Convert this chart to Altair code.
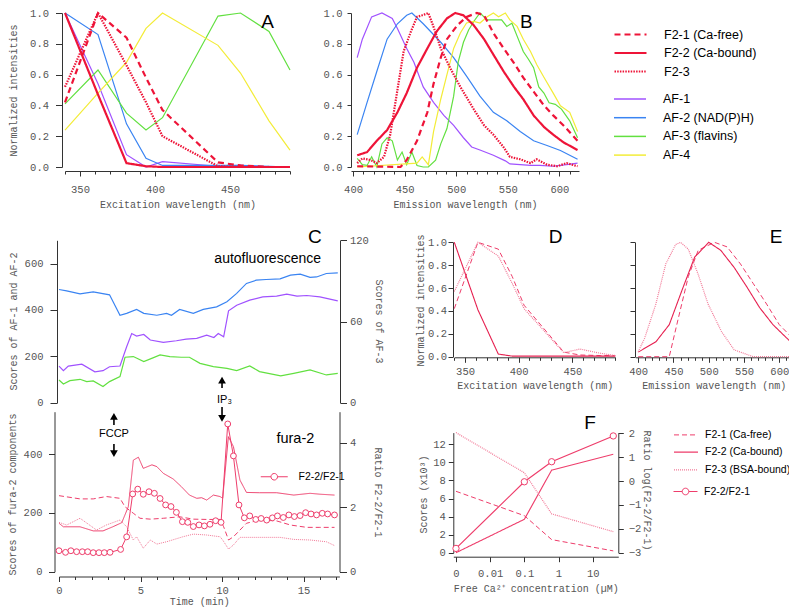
import altair as alt
import pandas as pd

W, H = 781, 600

# ---------------- data ----------------
# Panel A (excitation spectra)
EXA = [340, 362, 381, 394, 405, 442, 457, 476, 490]
A_F21 = [0.42, 1.0, 0.84, 0.58, 0.37, 0.03, 0.01, 0.0, 0.0]
A_F22 = [1.0, 0.47, 0.025, 0.005, 0.0, 0.0, 0.0, 0.0, 0.0]
A_F23 = [0.52, 1.0, 0.66, 0.42, 0.20, 0.005, 0.0, 0.0, 0.0]
A_AF1 = [1.0, 0.54, 0.08, 0.0, 0.035, 0.005, 0.01, 0.0, 0.0]
A_AF2 = [1.0, 0.86, 0.28, 0.056, 0.01, 0.01, 0.01, 0.005, 0.0]
A_AF3 = [0.41, 0.63, 0.35, 0.24, 0.32, 0.98, 1.0, 0.88, 0.63]
A_AF4 = [0.24, 0.48, 0.68, 0.90, 1.0, 0.79, 0.61, 0.30, 0.11]

# Panel B (emission spectra)
B_F21_X = [404, 446, 452, 462, 472, 478, 485, 491, 501, 510, 520, 527, 536, 546, 556, 565, 575, 585, 594, 604, 617.6]
B_F21 = [0.005, 0.0, 0.045, 0.17, 0.355, 0.54, 0.71, 0.83, 0.92, 0.975, 1.0, 0.985, 0.87, 0.77, 0.675, 0.58, 0.49, 0.40, 0.335, 0.27, 0.17]
B_F22_X = [404, 413.6, 423, 433, 443, 452, 462, 472, 481, 491, 499, 507, 517, 527, 536, 546, 556, 565, 575, 585, 594, 604, 617.6]
B_F22 = [0.076, 0.097, 0.17, 0.24, 0.355, 0.48, 0.645, 0.77, 0.88, 0.965, 1.0, 0.985, 0.92, 0.83, 0.73, 0.62, 0.52, 0.44, 0.335, 0.26, 0.21, 0.16, 0.11]
B_F23_X = [404, 409, 417, 423, 430, 436, 443, 449, 455.5, 462, 467, 473, 478, 485, 494, 504, 517, 527, 536, 546, 552, 562, 572, 578, 588, 598, 607, 617.6]
B_F23 = [0.025, 0.056, 0.045, 0.025, 0.066, 0.21, 0.5, 0.75, 0.87, 0.975, 0.985, 1.0, 0.91, 0.77, 0.645, 0.52, 0.375, 0.27, 0.21, 0.128, 0.066, 0.05, 0.025, 0.05, 0.015, 0.005, 0.025, 0.005]
B_AF1_X = [404, 409, 418, 428, 438, 443, 452, 459, 468, 478, 488, 497.5, 507, 515, 523, 536, 547.6, 552, 562, 572, 581, 594, 607, 617.6]
B_AF1 = [0.71, 0.83, 0.975, 1.0, 0.965, 0.90, 0.77, 0.68, 0.52, 0.42, 0.335, 0.27, 0.19, 0.13, 0.11, 0.076, 0.04, 0.02, 0.015, 0.01, 0.01, 0.005, 0.015, 0.025]
B_AF2_X = [404, 413.6, 423, 433, 443, 452, 457, 468, 485, 497.5, 510, 523, 536, 549, 562, 575, 588, 601, 617.6]
B_AF2 = [0.21, 0.42, 0.62, 0.83, 0.93, 0.985, 1.0, 0.93, 0.81, 0.71, 0.59, 0.46, 0.355, 0.30, 0.23, 0.17, 0.14, 0.107, 0.05]
B_AF3_X = [404, 409, 413.6, 418, 423, 428, 433, 438, 443, 447.5, 452, 457, 462, 468, 473, 480, 485, 491, 497.5, 502, 507, 512, 517, 523, 530, 536, 544, 549, 554, 559, 565, 570, 575, 580, 585, 590, 596, 602, 610, 617.6]
B_AF3 = [0.056, 0.015, 0.01, 0.066, 0.0, 0.15, 0.19, 0.17, 0.045, 0.097, 0.015, 0.097, 0.01, 0.0, 0.0, 0.045, 0.15, 0.25, 0.46, 0.685, 0.81, 0.89, 0.945, 1.0, 0.955, 0.955, 0.955, 0.913, 0.934, 0.85, 0.75, 0.70, 0.645, 0.52, 0.48, 0.417, 0.407, 0.376, 0.30, 0.19]
B_AF4_X = [404, 462, 467, 473, 478, 485, 491, 497.5, 504, 510, 517, 523, 530, 536, 541, 547.6, 552, 559, 565, 572, 578, 585, 594, 601, 610, 617.6]
B_AF4 = [0.0, 0.025, 0.066, 0.015, 0.23, 0.44, 0.60, 0.77, 0.87, 0.935, 0.945, 0.935, 0.975, 1.0, 0.975, 1.0, 0.955, 0.913, 0.83, 0.75, 0.665, 0.583, 0.48, 0.397, 0.355, 0.23]

# Panel C top (autofluorescence scores)
C_AF2_T = [0, 0.47, 1.29, 2.1, 3.1, 3.74, 4.15, 4.76, 5.2, 6.0, 6.6, 6.9, 7.4, 8.24, 8.85, 9.67, 10.3, 10.9, 11.5, 12.1, 12.7, 13.56, 14.2, 14.8, 15.4, 15.8, 16.4, 17.1]
C_AF2 = [488, 482, 469, 478, 465, 377, 385, 402, 385, 377, 385, 377, 402, 385, 402, 413, 435, 471, 514, 528, 531, 534, 550, 554, 540, 542, 557, 560]
C_AF1_T = [0, 0.27, 0.57, 1.4, 2.2, 2.7, 3.1, 3.74, 4.15, 4.46, 4.76, 5.2, 5.6, 6.4, 7.2, 7.8, 8.45, 9.06, 9.5, 9.77, 10.1, 10.4, 10.9, 11.7, 12.5, 13.35, 13.97, 14.6, 15.2, 16.0, 17.1]
C_AF1 = [158, 138, 158, 166, 133, 138, 155, 158, 241, 298, 287, 294, 270, 260, 267, 274, 277, 291, 281, 298, 284, 396, 420, 442, 456, 459, 468, 459, 462, 456, 439]
C_AF3_T = [0, 0.27, 0.67, 1.29, 1.7, 2.1, 2.7, 3.1, 3.74, 4.05, 4.56, 5.2, 5.8, 6.2, 6.8, 7.5, 8.0, 8.65, 9.47, 10.3, 10.9, 11.7, 12.3, 13.6, 14.4, 15.4, 16.4, 17.1]
C_AF3 = [16.8, 13.8, 16.3, 17.3, 15.6, 16.1, 11.9, 15.6, 19.3, 33.6, 34.1, 30.4, 33.3, 35.3, 34.1, 33.6, 33.6, 29.1, 26.7, 25.4, 23.7, 27.2, 23.0, 19.8, 21.7, 24.2, 20.5, 21.7]

# Panel C bottom (fura-2 components)
C_F22_T = [0, 0.27, 1.29, 2.1, 2.7, 3.3, 3.85, 4.25, 4.56, 4.87, 5.17, 5.7, 6.0, 6.4, 7.0, 7.5, 8.0, 8.45, 8.75, 9.06, 9.47, 9.88, 10.04, 10.39, 10.7, 11.1, 11.5, 12.3, 13.35, 14.4, 15.4, 16.0, 16.9]
C_F22 = [165, 153, 153, 139, 139, 153, 167, 221, 380, 390, 352, 364, 358, 335, 316, 290, 261, 250, 252, 244, 261, 256, 250, 460, 426, 312, 270, 269, 269, 261, 267, 264, 261]
C_F21_T = [0, 1.29, 2.1, 2.9, 3.74, 4.05, 4.56, 4.97, 5.6, 6.4, 7.4, 8.24, 9.06, 9.88, 10.1, 10.4, 10.7, 11.0, 11.5, 12.3, 13.35, 14.2, 15.2, 16.0, 16.9]
C_F21 = [259, 248, 248, 256, 250, 221, 199, 182, 179, 182, 187, 179, 178, 178, 153, 108, 119, 136, 165, 176, 173, 159, 151, 151, 151]
C_F23_T = [0, 0.47, 1.29, 2.3, 2.9, 3.74, 4.15, 4.56, 4.76, 5.17, 5.6, 6.0, 6.6, 7.6, 8.24, 9.06, 9.88, 10.04, 10.4, 10.7, 11.1, 12.3, 13.56, 14.4, 15.4, 16.4, 16.9]
C_F23 = [168, 159, 182, 142, 159, 176, 153, 108, 119, 80, 108, 94, 102, 119, 128, 125, 119, 108, 77, 91, 117, 117, 117, 110, 108, 102, 89]
C_R_T = [0, 0.4, 0.73, 1.08, 1.43, 1.76, 2.1, 2.45, 2.78, 3.13, 3.78, 4.15, 4.52, 4.83, 5.17, 5.52, 5.85, 6.2, 6.54, 6.87,
         7.2, 7.57, 7.9, 8.24, 8.59, 8.92, 9.26, 9.61, 9.94, 10.35, 10.7, 11.04, 11.37, 11.7, 12.07, 12.4, 12.74, 13.09, 13.4, 13.76,
         14.1, 14.44, 14.79, 15.13, 15.46, 15.8, 16.15, 16.48, 16.9]
C_R = [0.65, 0.60, 0.65, 0.62, 0.62, 0.62, 0.59, 0.59, 0.59, 0.60, 0.69, 1.08, 2.41, 2.56, 2.40, 2.48, 2.43, 2.27, 2.07, 2.02,
       1.84, 1.55, 1.53, 1.40, 1.45, 1.42, 1.47, 1.58, 1.53, 4.58, 3.59, 2.07, 1.67, 1.73, 1.62, 1.65, 1.60, 1.67, 1.73, 1.68,
       1.76, 1.71, 1.74, 1.83, 1.79, 1.76, 1.81, 1.79, 1.76]

# Panel D (in vitro excitation)
D_X = [340, 362, 381, 394, 405, 442, 457, 476, 490]
D_F21 = [0.42, 1.0, 0.94, 0.70, 0.45, 0.04, 0.015, 0.01, 0.01]
D_F22 = [1.0, 0.41, 0.023, 0.005, 0.005, 0.005, 0.005, 0.005, 0.005]
D_F23 = [0.57, 1.0, 0.88, 0.64, 0.42, 0.035, 0.067, 0.03, 0.01]

# Panel E (in vitro emission)
E_F21_X = [400, 444, 457, 471, 485, 508, 526, 545, 563, 582, 600, 616]
E_F21 = [0.0, 0.0, 0.34, 0.70, 0.93, 1.0, 0.96, 0.81, 0.64, 0.46, 0.28, 0.18]
E_F22_X = [400, 425, 444, 462, 480, 500, 517, 536, 554, 572, 591, 616]
E_F22 = [0.04, 0.13, 0.28, 0.58, 0.87, 1.0, 0.93, 0.78, 0.61, 0.43, 0.28, 0.13]
E_F23_X = [400, 409, 425, 439, 453, 460, 471, 485, 499, 518, 536, 563, 618]
E_F23 = [0.044, 0.16, 0.46, 0.81, 0.98, 1.0, 0.94, 0.72, 0.46, 0.22, 0.06, 0.0, 0.0]

# Panel F (calibration)
F_X = [0.001, 0.1, 0.63, 40]
F_F21 = [6.8, 4.1, 1.45, 0.2]
F_F22 = [0.0, 3.7, 9.15, 10.9]
F_F23 = [13.3, 8.85, 4.3, 2.33]
F_R = [-2.82, -0.03, 0.81, 1.89]

F2_AB = ["F2-1 (Ca-free)", "F2-2 (Ca-bound)", "F2-3"]
AF_N = ["AF-1", "AF-2 (NAD(P)H)", "AF-3 (flavins)", "AF-4"]
F2_F = ["F2-1 (Ca-free)", "F2-2 (Ca-bound)", "F2-3 (BSA-bound)"]
RATIO = ["F2-2/F2-1"]

# ---------------- style ----------------
RED = "#EE1438"
PURPLE = "#A052FF"
BLUE = "#3A84F2"
GREEN = "#62E040"
YELLOW = "#F3EC38"
PINK = "#EE3D6B"
PINK_D = "#E62050"
PINK_L = "#F27A98"
MONO = "Liberation Mono"
SANS = "Liberation Sans"


def sc(dom, rng, **kw):
    return alt.Scale(domain=dom, range=rng, nice=False, zero=False, **kw)


def ax(orient, offset, values, title=None, **kw):
    d = dict(labelFont=MONO, labelFontSize=10.5, labelColor="#555", titleFont=MONO,
             titleFontSize=10, titleColor="#555", titleFontWeight="normal",
             domainColor="#333", tickColor="#333", grid=False, labelPadding=2,
             tickSize=5, labelFlush=False, labelOverlap=False, titlePadding=3)
    d.update(kw)
    return alt.Axis(orient=orient, offset=offset, values=values, title=title, **d)


def yax(orient, offset, values, title, tx, ty, **kw):
    extra = dict(kw)
    if title is not None:
        extra.update(titleX=tx, titleY=ty, titleAngle=(270 if orient == "left" else 90),
                     titleBaseline="middle", titleAlign="center")
    return ax(orient, offset, values, title, **extra)


def minor(offset, values):
    return ax("bottom", offset, values, labels=False, domain=False, tickSize=3)


def long(items):
    rows = []
    for name, xs, ys in items:
        for a, b in zip(xs, ys):
            rows.append({"s": name, "x": a, "y": b})
    return pd.DataFrame(rows)


def leg(x, y, path, size, soff, loff, fs, rowpad, **kw):
    return alt.Legend(orient="none", legendX=x, legendY=y, title=None, symbolType=path,
                      symbolSize=size, symbolOffset=soff, labelOffset=loff, labelFont=SANS,
                      labelFontSize=fs, labelColor="#000", rowPadding=rowpad, padding=0, **kw)


def f2_layer(df, xs, ys, xaxis, yaxis, dom, cols, dashes, widths, legend=None):
    return alt.Chart(df).mark_line().encode(
        x=alt.X("x:Q", scale=xs, axis=xaxis),
        y=alt.Y("y:Q", scale=ys, axis=yaxis),
        color=alt.Color("s:N", scale=alt.Scale(domain=dom, range=cols), legend=legend),
        strokeDash=alt.StrokeDash("s:N", scale=alt.Scale(domain=dom, range=dashes), legend=legend),
        strokeWidth=alt.StrokeWidth("s:N", scale=alt.Scale(domain=dom, range=widths), legend=legend),
    )


def text_layer(xs, ys, xv, yv, tv, size, font=SANS, xaxis=None):
    df = pd.DataFrame({"x": xv, "y": yv, "t": tv})
    return alt.Chart(df).mark_text(font=font, fontSize=size, color="#000").encode(
        x=alt.X("x:Q", scale=xs, axis=xaxis), y=alt.Y("y:Q", scale=ys, axis=None), text="t:N")


layers = []
LINE_PATH = "M-2,0H2"
AB_DASH = [[6, 4], [1, 0], [1.5, 1.2]]
CF_DASH = [[5, 3], [1, 0], [1, 1]]
UNIT = [0, 0.2, 0.4, 0.6, 0.8, 1.0]

# ---------------- Panel A ----------------
xA = sc([340, 490], [57, 282])
yA = sc([0, 1], [159, 5])
dfA_af = long([(AF_N[0], EXA, A_AF1), (AF_N[1], EXA, A_AF2), (AF_N[2], EXA, A_AF3), (AF_N[3], EXA, A_AF4)])
dfA_f2 = long([(F2_AB[0], EXA, A_F21), (F2_AB[1], EXA, A_F22), (F2_AB[2], EXA, A_F23)])
layers.append(alt.Chart(dfA_af).mark_line(strokeWidth=1.2).encode(
    x=alt.X("x:Q", scale=xA, axis=minor(163 - H, list(range(340, 491, 10)))),
    y=alt.Y("y:Q", scale=yA, axis=None),
    color=alt.Color("s:N", scale=alt.Scale(domain=AF_N, range=[PURPLE, BLUE, GREEN, YELLOW]), legend=None)))
layers.append(f2_layer(dfA_f2, xA, yA,
                       ax("bottom", 163 - H, [350, 400, 450], "Excitation wavelength (nm)", labelPadding=8, titlePadding=5),
                       yax("left", -54, UNIT, "Normalized intensities", -49, 82, format=".1f",
                           tickSize=6.5, labelPadding=7),
                       F2_AB, [RED, RED, RED], AB_DASH, [2.2, 2.2, 2.0]))
layers.append(text_layer(xA, yA, [475], [0.94], ["A"], 19))

# ---------------- Panel B ----------------
xB = sc([398, 619], [343, 571])
yB = sc([0, 1], [159, 5])
dfB_af = long([(AF_N[0], B_AF1_X, B_AF1), (AF_N[1], B_AF2_X, B_AF2), (AF_N[2], B_AF3_X, B_AF3), (AF_N[3], B_AF4_X, B_AF4)])
dfB_f2 = long([(F2_AB[0], B_F21_X, B_F21), (F2_AB[1], B_F22_X, B_F22), (F2_AB[2], B_F23_X, B_F23)])
layers.append(alt.Chart(dfB_af).mark_line(strokeWidth=1.2).encode(
    x=alt.X("x:Q", scale=xB, axis=minor(163 - H, list(range(400, 611, 10)))),
    y=alt.Y("y:Q", scale=yB, axis=None),
    color=alt.Color("s:N", scale=alt.Scale(domain=AF_N, range=[PURPLE, BLUE, GREEN, YELLOW]),
                    legend=leg(605, 82, LINE_PATH, 256, 8, 24, 12.5, 2.7, symbolStrokeWidth=1.5))))
F2_LEG = leg(605, 17, LINE_PATH, 256, 8, 24, 12.5, 2.5)
layers.append(f2_layer(dfB_f2, xB, yB,
                       ax("bottom", 163 - H, [400, 450, 500, 550, 600], "Emission wavelength (nm)", labelPadding=8, titlePadding=5),
                       ax("left", -343, UNIT, None, format=".1f", tickSize=4, labelPadding=5),
                       F2_AB, [RED, RED, RED], AB_DASH, [2.2, 2.2, 2.0], legend=F2_LEG))
layers.append(text_layer(xB, yB, [568], [0.94], ["B"], 19))

# ---------------- Panel C (top) ----------------
xC = sc([0, 17.2], [51, 331.4])
yCt = sc([0, 700], [394.7, 232.3])
yCt3 = sc([0, 120], [394.7, 232.3])
dfC_af = long([(AF_N[0], C_AF1_T, C_AF1), (AF_N[1], C_AF2_T, C_AF2)])
dfC_af3 = pd.DataFrame({"x": C_AF3_T, "y": C_AF3})
layers.append(alt.Chart(dfC_af).mark_line(strokeWidth=1.2).encode(
    x=alt.X("x:Q", scale=xC, axis=None),
    y=alt.Y("y:Q", scale=yCt, axis=yax("left", -49, [0, 200, 400, 600], "Scores of AF-1 and AF-2", -44, 313,
                                       tickSize=7, labelPadding=7)),
    color=alt.Color("s:N", scale=alt.Scale(domain=AF_N[:2], range=[PURPLE, BLUE]), legend=None)))
layers.append(alt.Chart(dfC_af3).mark_line(strokeWidth=1.2, color=GREEN).encode(
    x=alt.X("x:Q", scale=xC, axis=None),
    y=alt.Y("y:Q", scale=yCt3, axis=yax("right", 332 - W, [0, 60, 120], "Scores of AF-3", 38.5, 313,
                                        tickSize=6.5, labelPadding=3))))
layers.append(text_layer(xC, yCt, [15.7], [714], ["C"], 19))
layers.append(text_layer(xC, yCt, [12.8], [619], ["autofluorescence"], 14))
layers.append(text_layer(xC, yCt, [10.15], [11], ["IP₃"], 11))

# arrows
ARR_TOP = pd.DataFrame({"x": [10.0], "yb": [63.4], "ye": [100], "yh": [97], "d": ["up"]})
ARR_BOT = pd.DataFrame({"x": [3.37, 3.37, 10.0], "yb": [499.6, 435, 561], "ye": [530, 400, 520],
                        "yh": [528.9, 402.3, 522.6], "d": ["up", "down", "down"]})
yCb = sc([0, 545], [563.7, 403.7])
for dfa, ysc in [(ARR_TOP, yCt), (ARR_BOT, yCb)]:
    layers.append(alt.Chart(dfa).mark_rule(strokeWidth=1.6, color="#000").encode(
        x=alt.X("x:Q", scale=xC, axis=None), y=alt.Y("yb:Q", scale=ysc, axis=None), y2="ye:Q"))
    layers.append(alt.Chart(dfa).mark_point(filled=True, color="#000", size=60, opacity=1).encode(
        x=alt.X("x:Q", scale=xC, axis=None), y=alt.Y("yh:Q", scale=ysc, axis=None),
        shape=alt.Shape("d:N", scale=alt.Scale(domain=["up", "down"], range=["triangle-up", "triangle-down"]), legend=None)))

# ---------------- Panel C (bottom) ----------------
yCr = sc([0, 4.96], [563.7, 403.7])
dfC_f2 = long([(F2_F[0], C_F21_T, C_F21), (F2_F[1], C_F22_T, C_F22), (F2_F[2], C_F23_T, C_F23)])
dfC_r = pd.DataFrame({"x": C_R_T, "y": C_R, "s": RATIO[0]})
layers.append(f2_layer(dfC_f2, xC, yCb,
                       ax("bottom", 568.5 - H, [0, 5, 10, 15], "Time (min)", labelPadding=4, titlePadding=0),
                       yax("left", -46.5, [0, 200, 400], "Scores of fura-2 components", -42, 486,
                           tickSize=6, labelPadding=6.5),
                       F2_F, [PINK, PINK, PINK_L], CF_DASH, [1, 1, 1.2]))
RPATH_C = "M-3,0H-0.73M0.73,0H3M-0.73,0A0.73,0.73 0 1 1 0.73,0A0.73,0.73 0 1 1 -0.73,0"
layers.append(alt.Chart(dfC_r).mark_line(strokeWidth=1).encode(
    x=alt.X("x:Q", scale=xC, axis=minor(568.5 - H, list(range(0, 18)))),
    y=alt.Y("y:Q", scale=yCr, axis=yax("right", 331.5 - W, [0, 2, 4], "Ratio F2-2/F2-1", 37.5, 484,
                                       tickSize=7, labelPadding=3)),
    color=alt.Color("s:N", scale=alt.Scale(domain=RATIO, range=[PINK]),
                    legend=leg(252, 463.5, RPATH_C, 81, 9, 19, 10.5, 2, symbolStrokeWidth=1,
                               symbolFillColor="white"))))
layers.append(alt.Chart(dfC_r).mark_point(filled=True, fill="white", stroke=PINK, strokeWidth=1, size=34, opacity=1).encode(
    x=alt.X("x:Q", scale=xC, axis=None), y=alt.Y("y:Q", scale=yCr, axis=None)))
layers.append(text_layer(xC, yCb, [14.5], [451], ["fura-2"], 14.5))
layers.append(text_layer(xC, yCb, [3.37], [470], ["FCCP"], 11))

# ---------------- Panel D ----------------
xD = sc([340, 490], [446.3, 607.3])
yD = sc([0, 1], [348.7, 234.3])
dfD = long([(F2_F[0], D_X, D_F21), (F2_F[1], D_X, D_F22), (F2_F[2], D_X, D_F23)])
layers.append(f2_layer(dfD, xD, yD,
                       ax("bottom", 349.3 - H, [350, 400, 450], "Excitation wavelength (nm)", labelPadding=4, titlePadding=4),
                       yax("left", -445, UNIT, "Normalized intensities", -32.5, 292, format=".1f",
                           tickSize=5, labelPadding=1.5),
                       F2_F, [PINK, PINK_D, PINK_L], CF_DASH, [1, 1.2, 1.2]))
layers.append(text_layer(xD, yD, [434.5], [1.05], ["D"], 19,
                         xaxis=minor(349.3 - H, list(range(340, 491, 10)))))

# ---------------- Panel E ----------------
xE = sc([396, 618], [627.4, 784])
yE = sc([0, 1], [348.7, 234.3])
dfE = long([(F2_F[0], E_F21_X, E_F21), (F2_F[1], E_F22_X, E_F22), (F2_F[2], E_F23_X, E_F23)])
layers.append(f2_layer(dfE, xE, yE,
                       ax("bottom", 349.3 - H, [400, 450, 500, 550, 600], "Emission wavelength (nm)", labelPadding=4, titlePadding=4),
                       ax("left", -627, UNIT, None, labels=False),
                       F2_F, [PINK, PINK_D, PINK_L], CF_DASH, [1, 1.2, 1.2]))
layers.append(text_layer(xE, yE, [595.5], [1.05], ["E"], 19,
                         xaxis=minor(349.3 - H, list(range(400, 611, 10)))))

# ---------------- Panel F ----------------
xF = alt.Scale(type="log", domain=[0.000834, 56.1], range=[445.3, 610.3], nice=False)
yF = sc([0, 13.3], [544.7, 424.6])
yFr = sc([-3, 2.03], [544.7, 424.6])
dfF = long([(F2_F[0], F_X, F_F21), (F2_F[1], F_X, F_F22), (F2_F[2], F_X, F_F23)])
dfF_r = pd.DataFrame({"x": F_X, "y": F_R, "s": RATIO[0]})
layers.append(f2_layer(dfF, xF, yF,
                       ax("bottom", 548.7 - H, [0.001, 0.01, 0.1, 1, 10], "Free Ca²⁺ concentration (µM)",
                          labelExpr="datum.value < 0.005 ? '0' : toString(datum.value)",
                          labelPadding=7, titlePadding=4),
                       yax("left", -445.3, [0, 2, 4, 6, 8, 10, 12], "Scores (x10³)", -29.8, 486,
                           tickSize=5, labelPadding=3),
                       F2_F, [PINK, PINK, PINK_L], CF_DASH, [1, 1.2, 1.2],
                       legend=leg(665, 420.4, LINE_PATH, 144, 6, 12, 10.5, 4.7)))
RPATH_F = "M-2,0H-0.55M0.55,0H2M-0.55,0A0.55,0.55 0 1 1 0.55,0A0.55,0.55 0 1 1 -0.55,0"
layers.append(alt.Chart(dfF_r).mark_line(strokeWidth=1.2).encode(
    x=alt.X("x:Q", scale=xF, axis=None),
    y=alt.Y("y:Q", scale=yFr, axis=yax("right", 610.3 - W, [-3, -2, -1, 0, 1, 2], "Ratio log(F2-2/F2-1)", 27.7, 482,
                                       tickSize=5, labelPadding=5)),
    color=alt.Color("s:N", scale=alt.Scale(domain=RATIO, range=[PINK]),
                    legend=leg(665, 477, RPATH_F, 144, 6, 12, 10.5, 2, symbolStrokeWidth=1,
                               symbolFillColor="white"))))
layers.append(alt.Chart(dfF_r).mark_point(filled=True, fill="white", stroke=PINK, strokeWidth=1, size=40, opacity=1).encode(
    x=alt.X("x:Q", scale=xF, axis=None), y=alt.Y("y:Q", scale=yFr, axis=None)))
layers.append(text_layer(xF, yF, [8.3], [14.33], ["F"], 19))

chart = alt.layer(*layers).resolve_scale(
    x="independent", y="independent", color="independent", strokeDash="independent",
    strokeWidth="independent", shape="independent"
).resolve_axis(x="independent", y="independent").resolve_legend(
    color="independent", strokeDash="independent", strokeWidth="independent", shape="independent"
).properties(width=W, height=H, padding=0, autosize=alt.AutoSizeParams(type="none")
).configure_view(stroke=None)

chart.save("out.html", embed_options={"renderer": "svg", "actions": False})
